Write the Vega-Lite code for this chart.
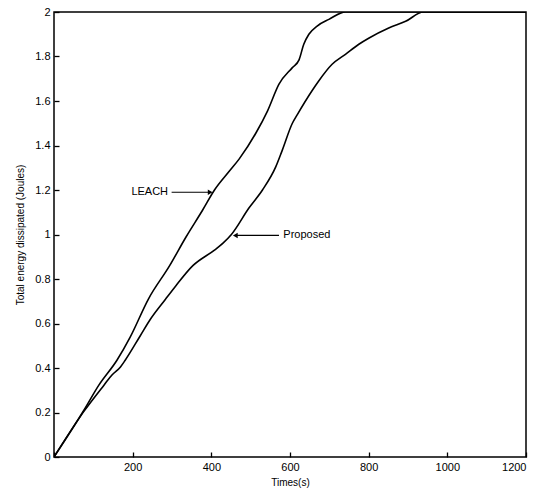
{
  "$schema": "https://vega.github.io/schema/vega-lite/v6.json",
  "autosize": {"type": "none"},
  "padding": {"left": 54, "top": 12, "right": 22, "bottom": 37},
  "width": 472,
  "height": 445,
  "background": "white",
  "config": {
    "view": {"stroke": "black", "strokeWidth": 1.5},
    "font": "Liberation Sans",
    "axis": {
      "grid": false,
      "domain": false,
      "tickColor": "black",
      "tickSize": -5,
      "tickWidth": 1.3,
      "labelColor": "black",
      "labelFontSize": 11,
      "labelFont": "Liberation Sans",
      "titleFont": "Liberation Sans",
      "titleFontSize": 10,
      "titleFontWeight": "normal",
      "titleColor": "black"
    }
  },
  "layer": [
    {
      "data": {
        "values": [
          {"t": 0, "E": 0, "series": "LEACH"},
          {"t": 76, "E": 0.21, "series": "LEACH"},
          {"t": 114, "E": 0.323, "series": "LEACH"},
          {"t": 160, "E": 0.435, "series": "LEACH"},
          {"t": 194, "E": 0.54, "series": "LEACH"},
          {"t": 240, "E": 0.71, "series": "LEACH"},
          {"t": 294, "E": 0.86, "series": "LEACH"},
          {"t": 336, "E": 0.99, "series": "LEACH"},
          {"t": 378, "E": 1.11, "series": "LEACH"},
          {"t": 408, "E": 1.2, "series": "LEACH"},
          {"t": 446, "E": 1.285, "series": "LEACH"},
          {"t": 471, "E": 1.34, "series": "LEACH"},
          {"t": 513, "E": 1.455, "series": "LEACH"},
          {"t": 543, "E": 1.556, "series": "LEACH"},
          {"t": 572, "E": 1.676, "series": "LEACH"},
          {"t": 606, "E": 1.75, "series": "LEACH"},
          {"t": 623, "E": 1.785, "series": "LEACH"},
          {"t": 635, "E": 1.855, "series": "LEACH"},
          {"t": 648, "E": 1.9, "series": "LEACH"},
          {"t": 669, "E": 1.937, "series": "LEACH"},
          {"t": 699, "E": 1.967, "series": "LEACH"},
          {"t": 741, "E": 2.0, "series": "LEACH"},
          {"t": 1200, "E": 2.0, "series": "LEACH"},
          {"t": 0, "E": 0, "series": "Proposed"},
          {"t": 76, "E": 0.205, "series": "Proposed"},
          {"t": 127, "E": 0.323, "series": "Proposed"},
          {"t": 148, "E": 0.37, "series": "Proposed"},
          {"t": 169, "E": 0.405, "series": "Proposed"},
          {"t": 181, "E": 0.435, "series": "Proposed"},
          {"t": 219, "E": 0.544, "series": "Proposed"},
          {"t": 245, "E": 0.619, "series": "Proposed"},
          {"t": 283, "E": 0.708, "series": "Proposed"},
          {"t": 310, "E": 0.77, "series": "Proposed"},
          {"t": 353, "E": 0.86, "series": "Proposed"},
          {"t": 408, "E": 0.93, "series": "Proposed"},
          {"t": 429, "E": 0.96, "series": "Proposed"},
          {"t": 451, "E": 1.0, "series": "Proposed"},
          {"t": 496, "E": 1.12, "series": "Proposed"},
          {"t": 530, "E": 1.2, "series": "Proposed"},
          {"t": 564, "E": 1.305, "series": "Proposed"},
          {"t": 580, "E": 1.377, "series": "Proposed"},
          {"t": 606, "E": 1.5, "series": "Proposed"},
          {"t": 619, "E": 1.54, "series": "Proposed"},
          {"t": 656, "E": 1.646, "series": "Proposed"},
          {"t": 673, "E": 1.69, "series": "Proposed"},
          {"t": 707, "E": 1.765, "series": "Proposed"},
          {"t": 741, "E": 1.81, "series": "Proposed"},
          {"t": 775, "E": 1.855, "series": "Proposed"},
          {"t": 800, "E": 1.882, "series": "Proposed"},
          {"t": 851, "E": 1.928, "series": "Proposed"},
          {"t": 894, "E": 1.958, "series": "Proposed"},
          {"t": 939, "E": 2.0, "series": "Proposed"},
          {"t": 1200, "E": 2.0, "series": "Proposed"}
        ]
      },
      "mark": {"type": "line", "color": "black", "strokeWidth": 1.6, "clip": true, "interpolate": "monotone"},
      "encoding": {
        "x": {
          "field": "t", "type": "quantitative",
          "scale": {"domain": [0, 1200], "nice": false},
          "axis": {"values": [0, 200, 400, 600, 800, 1000, 1200], "format": "d", "labelExpr": "datum.value == 0 ? '' : datum.label", "labelPadding": 9, "title": "Times(s)", "titlePadding": 5}
        },
        "y": {
          "field": "E", "type": "quantitative",
          "scale": {"domain": [0, 2], "nice": false},
          "axis": {"values": [0, 0.2, 0.4, 0.6, 0.8, 1, 1.2, 1.4, 1.6, 1.8, 2], "format": "~g", "labelPadding": 9, "title": "Total energy dissipated (Joules)", "titlePadding": 9}
        },
        "detail": {"field": "series", "type": "nominal"}
      }
    },
    {
      "data": {
        "values": [
          {"x1": 299, "x2": 398, "E": 1.19},
          {"x1": 462, "x2": 572, "E": 0.996}
        ]
      },
      "mark": {"type": "rule", "color": "black", "strokeWidth": 1.2},
      "encoding": {
        "x": {"field": "x1", "type": "quantitative"},
        "x2": {"field": "x2"},
        "y": {"field": "E", "type": "quantitative"}
      }
    },
    {
      "data": {
        "values": [
          {"t": 397, "E": 1.19, "dir": "triangle-right"},
          {"t": 461, "E": 0.996, "dir": "triangle-left"}
        ]
      },
      "mark": {"type": "point", "filled": true, "color": "black", "size": 30, "opacity": 1},
      "encoding": {
        "x": {"field": "t", "type": "quantitative"},
        "y": {"field": "E", "type": "quantitative"},
        "shape": {"field": "dir", "type": "nominal", "scale": null}
      }
    },
    {
      "data": {
        "values": [
          {"t": 290, "E": 1.19, "label": "LEACH", "align": "right"},
          {"t": 583, "E": 0.996, "label": "Proposed", "align": "left"}
        ]
      },
      "transform": [{"filter": "datum.align == 'right'"}],
      "mark": {"type": "text", "align": "right", "baseline": "middle", "fontSize": 11, "color": "black", "font": "Liberation Sans"},
      "encoding": {
        "x": {"field": "t", "type": "quantitative"},
        "y": {"field": "E", "type": "quantitative"},
        "text": {"field": "label"}
      }
    },
    {
      "data": {
        "values": [
          {"t": 290, "E": 1.19, "label": "LEACH", "align": "right"},
          {"t": 583, "E": 0.996, "label": "Proposed", "align": "left"}
        ]
      },
      "transform": [{"filter": "datum.align == 'left'"}],
      "mark": {"type": "text", "align": "left", "baseline": "middle", "fontSize": 11, "color": "black", "font": "Liberation Sans"},
      "encoding": {
        "x": {"field": "t", "type": "quantitative"},
        "y": {"field": "E", "type": "quantitative"},
        "text": {"field": "label"}
      }
    }
  ]
}
